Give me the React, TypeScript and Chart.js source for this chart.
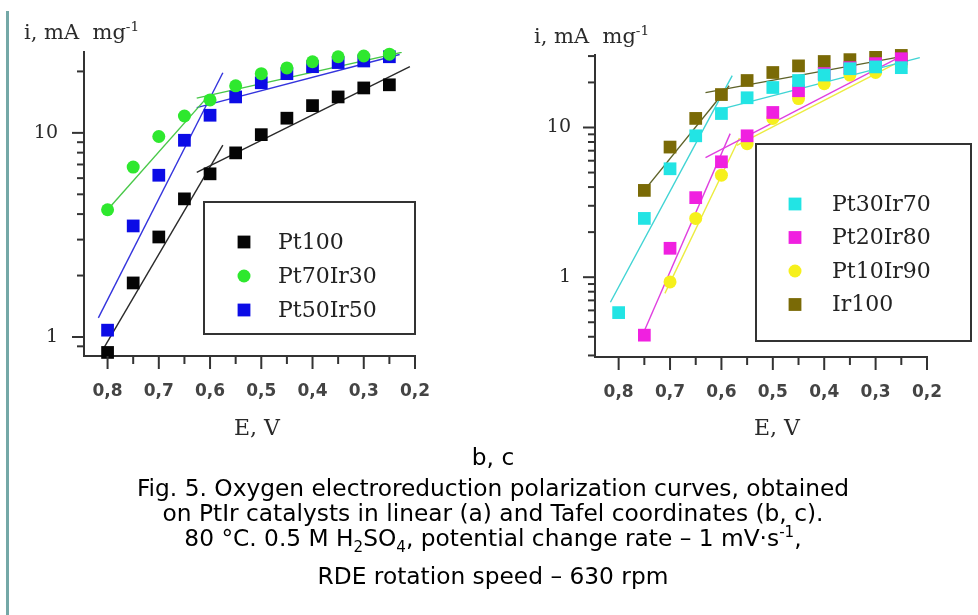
import React, { useEffect, useRef } from 'react';
import { Chart, registerables } from 'chart.js';
Chart.register(...registerables);

// ---------- data ----------
const E_STEPS = [0.8, 0.75, 0.7, 0.65, 0.6, 0.55, 0.5, 0.45, 0.4, 0.35, 0.3, 0.25];
const E_LABEL_TICKS = [0.8, 0.7, 0.6, 0.5, 0.4, 0.3, 0.2];
const E_MINOR_TICKS = [0.75, 0.65, 0.55, 0.45, 0.35, 0.25];
const I_LABEL_TICKS = [1, 10];
const I_MINOR_TICKS_B = [0.9, 2, 3, 4, 5, 6, 7, 8, 9, 20];
const I_MINOR_TICKS_C = [0.3, 0.4, 0.5, 0.6, 0.7, 0.8, 0.9, 2, 3, 4, 5, 6, 7, 8, 9, 20, 30];

// chart b
const PT100 = [0.84, 1.84, 3.09, 4.75, 6.3, 7.98, 9.8, 11.8, 13.6, 15.0, 16.6, 17.2];
const PT70IR30 = [4.2, 6.8, 9.6, 12.1, 14.5, 17.0, 19.5, 20.8, 22.3, 23.6, 23.8, 24.3];
const PT50IR50 = [1.08, 3.5, 6.2, 9.2, 12.2, 15.0, 17.6, 19.5, 21.1, 22.1, 22.5, 23.6];
const PT100_FIT_STEEP = [[0.81, 0.86], [0.575, 8.7]];
const PT100_FIT_FLAT = [[0.626, 6.4], [0.21, 21.1]];
const PT70IR30_FIT_STEEP = [[0.8, 4.2], [0.607, 14.8]];
const PT70IR30_FIT_FLAT = [[0.626, 14.8], [0.226, 24.8]];
const PT50IR50_FIT_STEEP = [[0.818, 1.24], [0.575, 19.7]];
const PT50IR50_FIT_FLAT = [[0.626, 13.3], [0.23, 24.2]];

// chart c
const PT30IR70 = [0.58, 2.47, 5.3, 8.8, 12.4, 15.8, 18.5, 20.6, 22.4, 24.7, 25.4, 25.1];
const PT20IR80 = [0.41, 1.56, 3.4, 5.9, 8.8, 12.6, 17.6, 22.9, 25.1, 26.7, 28.8];
const PT10IR90 = [0.93, 2.47, 4.8, 7.8, 11.5, 15.6, 19.6, 22.4, 23.3, 25.9];
const IR100 = [3.8, 7.4, 11.5, 16.6, 20.6, 23.3, 25.8, 27.6, 28.4, 29.4, 30.3];
const PT30IR70_FIT_STEEP = [[0.816, 0.68], [0.579, 22.2]];
const PT30IR70_FIT_FLAT = [[0.61, 13.0], [0.214, 29.3]];
const PT20IR80_FIT_STEEP = [[0.751, 0.43], [0.583, 9.1]];
const PT20IR80_FIT_FLAT = [[0.631, 6.3], [0.258, 29.0]];
const PT10IR90_FIT_STEEP = [[0.71, 0.78], [0.565, 8.5]];
const PT10IR90_FIT_FLAT = [[0.57, 7.6], [0.25, 28.0]];
const IR100_FIT_STEEP = [[0.745, 4.0], [0.585, 19.0]];
const IR100_FIT_FLAT = [[0.631, 17.1], [0.245, 30.0]];

// ---------- helpers ----------
const pts = (es: number[], vs: number[]) => vs.map((v, k) => ({ x: es[k], y: v }));
const seg = (pairs: number[][]) => pairs.map(([x, y]) => ({ x, y }));

function pointSet(label: string, es: number[], vs: number[], color: string, style: string) {
  return {
    label,
    data: pts(es, vs),
    showLine: false,
    pointStyle: style,
    pointRadius: style === 'rect' ? 9 : 6.5,
    pointBackgroundColor: color,
    pointBorderColor: color,
    pointBorderWidth: 0,
    backgroundColor: color,
    borderColor: color,
    clip: false,
    order: 0,
    isLegend: true,
  };
}
function lineSet(pairs: number[][], color: string) {
  return {
    label: '',
    data: seg(pairs),
    showLine: true,
    pointRadius: 0,
    borderColor: color,
    borderWidth: 1.4,
    fill: false,
    order: 10,
    isLegend: false,
  };
}

const axisTicksPlugin = {
  id: 'axisTicks',
  afterDraw(chart: any, _args: any, opts: any) {
    const { ctx, chartArea, scales } = chart;
    const x = scales.x, y = scales.y;
    ctx.save();
    ctx.strokeStyle = '#333';
    ctx.lineWidth = 2;
    const line = (x1: number, y1: number, x2: number, y2: number) => {
      ctx.beginPath(); ctx.moveTo(x1, y1); ctx.lineTo(x2, y2); ctx.stroke();
    };
    const b = chartArea.bottom, l = chartArea.left;
    (opts.xMajor || []).forEach((v: number) => { const p = x.getPixelForValue(v); line(p, b, p, b + 13); });
    (opts.xMinor || []).forEach((v: number) => { const p = x.getPixelForValue(v); line(p, b, p, b + 8); });
    (opts.yMajor || []).forEach((v: number) => { const p = y.getPixelForValue(v); line(l - 12, p, l, p); });
    (opts.yMinor || []).forEach((v: number) => { const p = y.getPixelForValue(v); if (p >= chartArea.top - 1 && p <= b + 1) line(l - 7, p, l, p); });
    ctx.restore();
  },
};

const boxLegendPlugin = {
  id: 'boxLegend',
  afterDraw(chart: any, _args: any, opts: any) {
    const { ctx } = chart;
    const [bx, by, bw, bh] = opts.box;
    ctx.save();
    ctx.strokeStyle = '#333';
    ctx.lineWidth = 2;
    ctx.strokeRect(bx, by, bw, bh);
    const items = chart.data.datasets.filter((d: any) => d.isLegend);
    ctx.font = '22px "DejaVu Serif"';
    ctx.textBaseline = 'middle';
    ctx.textAlign = 'left';
    items.forEach((d: any, k: number) => {
      const cy = opts.firstY + k * opts.gap;
      ctx.fillStyle = d.pointBackgroundColor;
      if (d.pointStyle === 'circle') {
        ctx.beginPath(); ctx.arc(opts.markerX, cy, 6.5, 0, Math.PI * 2); ctx.fill();
      } else {
        ctx.fillRect(opts.markerX - 6.4, cy - 6.4, 12.8, 12.8);
      }
      ctx.fillStyle = '#222';
      ctx.fillText(d.label, opts.textX, cy + 1);
    });
    ctx.restore();
  },
};

function makeOptions(cfg: any) {
  return {
    responsive: false,
    animation: false,
    layout: { padding: { left: 0, top: cfg.top, right: cfg.right, bottom: 0 } },
    plugins: {
      legend: { display: false },
      tooltip: { enabled: false },
      axisTicks: { xMajor: E_LABEL_TICKS, xMinor: E_MINOR_TICKS, yMajor: I_LABEL_TICKS, yMinor: cfg.yMinor },
      boxLegend: cfg.legend,
    },
    scales: {
      x: {
        type: 'linear',
        reverse: true,
        min: 0.2,
        max: 0.846,
        grid: { display: false, drawTicks: false },
        border: { display: true, color: '#333', width: 2 },
        afterBuildTicks: (s: any) => { s.ticks = E_LABEL_TICKS.map((v) => ({ value: v })); },
        afterFit: (s: any) => { s.height = cfg.xH; },
        ticks: {
          padding: 25,
          color: '#444',
          font: { family: 'DejaVu Sans', size: 17, weight: 'bold' },
          callback: (v: any) => Number(v).toFixed(1).replace('.', ','),
        },
      },
      y: {
        type: 'logarithmic',
        min: cfg.yMin,
        max: cfg.yMax,
        grid: { display: false, drawTicks: false },
        border: { display: true, color: '#333', width: 2 },
        afterBuildTicks: (s: any) => { s.ticks = I_LABEL_TICKS.map((v) => ({ value: v })); },
        afterFit: (s: any) => { s.width = cfg.yW; },
        ticks: {
          padding: cfg.yPad,
          color: '#2a2a2a',
          font: { family: 'DejaVu Serif', size: 19 },
          callback: (v: any) => String(v),
        },
      },
    },
  };
}

function ChartB() {
  const ref = useRef<HTMLCanvasElement>(null);
  useEffect(() => {
    const chart = new Chart(ref.current as HTMLCanvasElement, {
      type: 'scatter',
      data: {
        datasets: [
          pointSet('Pt100', E_STEPS, PT100, '#050505', 'rect'),
          pointSet('Pt70Ir30', E_STEPS, PT70IR30, '#2ee82e', 'circle'),
          pointSet('Pt50Ir50', E_STEPS, PT50IR50, '#0c0ce6', 'rect'),
          lineSet(PT100_FIT_STEEP, '#2a2a2a'),
          lineSet(PT100_FIT_FLAT, '#2a2a2a'),
          lineSet(PT70IR30_FIT_STEEP, '#48c848'),
          lineSet(PT70IR30_FIT_FLAT, '#48c848'),
          lineSet(PT50IR50_FIT_STEEP, '#3434dd'),
          lineSet(PT50IR50_FIT_FLAT, '#3434dd'),
        ] as any,
      },
      options: makeOptions({
        top: 52, right: 65, xH: 89, yW: 84, yPad: 26,
        yMin: 0.807, yMax: 24.9, yMinor: I_MINOR_TICKS_B,
        legend: { box: [204, 202, 211, 132], firstY: 242, gap: 34, markerX: 244, textX: 278 },
      }) as any,
      plugins: [axisTicksPlugin, boxLegendPlugin],
    });
    return () => chart.destroy();
  }, []);
  return <canvas ref={ref} width={480} height={445} style={{ position: 'absolute', left: 0, top: 0 }} />;
}

function ChartC() {
  const ref = useRef<HTMLCanvasElement>(null);
  useEffect(() => {
    const chart = new Chart(ref.current as HTMLCanvasElement, {
      type: 'scatter',
      data: {
        datasets: [
          pointSet('Pt30Ir70', E_STEPS, PT30IR70, '#22e4e4', 'rect'),
          pointSet('Pt20Ir80', E_STEPS.slice(1), PT20IR80, '#f020e0', 'rect'),
          pointSet('Pt10Ir90', E_STEPS.slice(2), PT10IR90, '#f6f01c', 'circle'),
          pointSet('Ir100', E_STEPS.slice(1), IR100, '#7a6a06', 'rect'),
          lineSet(PT30IR70_FIT_STEEP, '#40d4d4'),
          lineSet(PT30IR70_FIT_FLAT, '#40d4d4'),
          lineSet(PT20IR80_FIT_STEEP, '#e040e0'),
          lineSet(PT20IR80_FIT_FLAT, '#e040e0'),
          lineSet(PT10IR90_FIT_STEEP, '#ecec40'),
          lineSet(PT10IR90_FIT_FLAT, '#ecec40'),
          lineSet(IR100_FIT_STEEP, '#5e6228'),
          lineSet(IR100_FIT_FLAT, '#5e6228'),
        ] as any,
      },
      options: makeOptions({
        top: 55, right: 51, xH: 88, yW: 115, yPad: 24,
        yMin: 0.293, yMax: 30.5, yMinor: I_MINOR_TICKS_C,
        legend: { box: [276, 144, 215, 197], firstY: 204, gap: 33.5, markerX: 315, textX: 352 },
      }) as any,
      plugins: [axisTicksPlugin, boxLegendPlugin],
    });
    return () => chart.destroy();
  }, []);
  return <canvas ref={ref} width={498} height={445} style={{ position: 'absolute', left: 480, top: 0 }} />;
}

const serifLabel: React.CSSProperties = {
  position: 'absolute',
  fontFamily: '"DejaVu Serif", serif',
  color: '#2a2a2a',
  whiteSpace: 'nowrap',
  lineHeight: '24px',
};
const capLine: React.CSSProperties = {
  position: 'absolute',
  left: 4,
  width: 978,
  textAlign: 'center',
  fontFamily: '"DejaVu Sans", sans-serif',
  fontSize: 23.3,
  lineHeight: '26px',
  color: '#000',
  whiteSpace: 'nowrap',
};
const supSub: React.CSSProperties = { fontSize: '65%', lineHeight: 0 };

export default function App() {
  return (
    <div style={{ position: 'fixed', left: 0, top: 0, width: 978, height: 615, background: '#fff', overflow: 'hidden' }}>
      <div style={{ position: 'absolute', left: 6, top: 11, width: 3, height: 604, background: '#74a8a7' }} />
      <ChartB />
      <ChartC />
      <div style={{ ...serifLabel, left: 24, top: 20, fontSize: 21 }}>
        i, mA&nbsp; mg<sup style={supSub}>-1</sup>
      </div>
      <div style={{ ...serifLabel, left: 534, top: 24, fontSize: 21 }}>
        i, mA&nbsp; mg<sup style={supSub}>-1</sup>
      </div>
      <div style={{ ...serifLabel, left: 234, top: 416, fontSize: 22 }}>E, V</div>
      <div style={{ ...serifLabel, left: 754, top: 416, fontSize: 22 }}>E, V</div>
      <div style={{ ...capLine, top: 444 }}>b, c</div>
      <div style={{ ...capLine, top: 475 }}>Fig. 5. Oxygen electroreduction polarization curves, obtained</div>
      <div style={{ ...capLine, top: 500 }}>on PtIr catalysts in linear (a) and Tafel coordinates (b, c).</div>
      <div style={{ ...capLine, top: 525 }}>
        80 °C. 0.5 M H<sub style={supSub}>2</sub>SO<sub style={supSub}>4</sub>, potential change rate – 1 mV·s<sup style={supSub}>-1</sup>,
      </div>
      <div style={{ ...capLine, top: 563 }}>RDE rotation speed – 630 rpm</div>
    </div>
  );
}
